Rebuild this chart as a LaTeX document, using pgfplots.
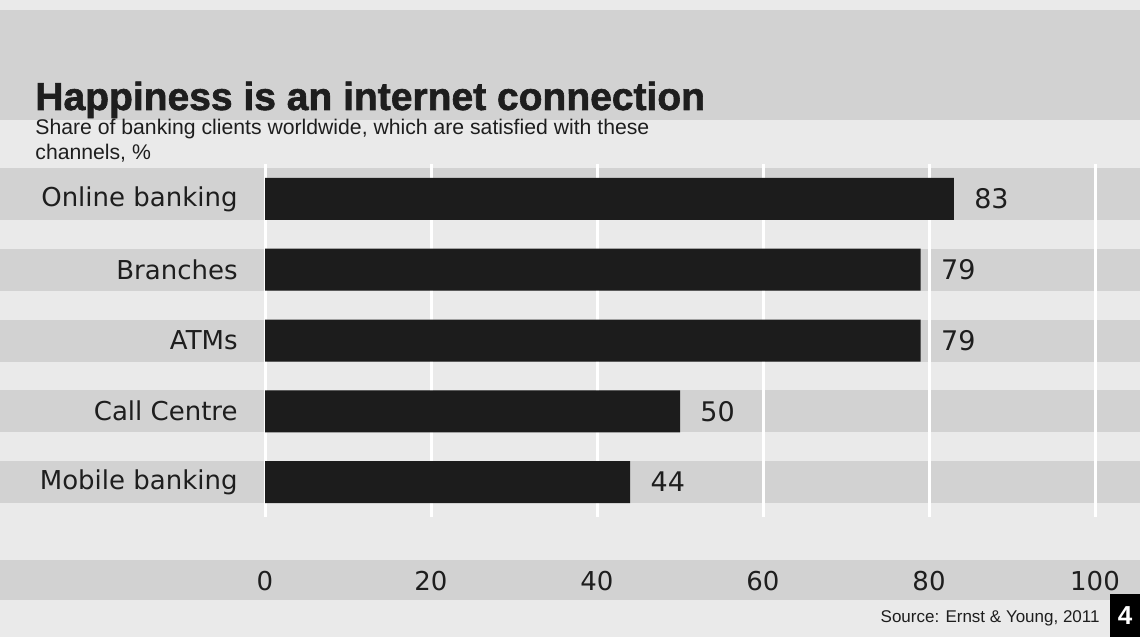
\documentclass[border=0pt]{standalone}
\usepackage{pgfplots}
\pgfplotsset{compat=1.18}
\usepackage{fontspec}
\setmainfont{DejaVu Sans}
\newfontfamily\lib{Liberation Sans}
\newfontfamily\libblack[BoldFeatures={FakeBold=1.6}]{Liberation Sans}
\definecolor{bg}{HTML}{D2D2D2}
\definecolor{band}{HTML}{EAEAEA}
\definecolor{bar}{HTML}{1C1C1C}
\definecolor{txt}{HTML}{1E1E1E}
\begin{document}
\begin{tikzpicture}
\begin{scope}[x=0.5pt,y=0.5pt]
\fill[bg] (0,0) rectangle (1140,637);
\fill[band] (0,637) rectangle (1140,627);
\fill[band] (0,637-120) rectangle (1140,637-168);
\foreach \a/\b in {220/249,291/320,362/390,432/461,503/560,600/637}{
  \fill[band] (0,637-\a) rectangle (1140,637-\b);
}
\end{scope}
\begin{axis}[
  at={(132.5pt,59.75pt)}, anchor=south west,
  scale only axis, width=415pt, height=177pt,
  xbar, bar width=21pt,
  xmin=0, xmax=100, ymin=-0.5, ymax=4.5,
  xtick={0,20,40,60,80,100},
  ytick={0,1,2,3,4},
  yticklabels={Mobile banking,Call Centre,ATMs,Branches,Online banking},
  axis line style={draw=none},
  major tick length=0pt,
  xmajorgrids, grid style={white, line width=1.5pt},
  tick label style={font=\fontsize{13}{15}\selectfont, text=txt},
  xticklabel style={anchor=center, yshift=-31.75pt},
  yticklabel style={anchor=east, inner sep=0pt, xshift=-13.5pt},
  /pgf/number format/assume math mode=true,
  nodes near coords,
  every node near coord/.append style={anchor=west, inner sep=0pt, xshift=10pt, font=\fontsize{13.5}{15}\selectfont, text=txt},
  clip=false,
]
\addplot[fill=bar, draw=none] coordinates {(44,0) (50,1) (79,2) (79,3) (83,4)};
\end{axis}
\begin{scope}[x=0.5pt,y=0.5pt]
\node[anchor=base west, inner sep=0pt, text=txt] at (35,637-110) {\libblack\fontsize{19.5}{22}\selectfont\bfseries Happiness is an internet connection};
\node[anchor=base west, inner sep=0pt, text=txt] at (35,637-135) {\lib\fontsize{10.6}{13}\selectfont Share of banking clients worldwide, which are satisfied with these};
\node[anchor=base west, inner sep=0pt, text=txt] at (35,637-160) {\lib\fontsize{10.6}{13}\selectfont channels, \%};
\node[anchor=base east, inner sep=0pt, text=txt] at (1100,637-622) {\lib\fontsize{8.5}{10}\selectfont Source: Ernst \& Young, 2011};
\fill[black] (1110,0) rectangle (1140,637-594);
\node[text=white, inner sep=0pt] at (1125,637-616) {\lib\fontsize{13}{15}\selectfont\bfseries 4};
\end{scope}
\pgfresetboundingbox
\path (0,0) rectangle (570pt,318.5pt);
\end{tikzpicture}
\end{document}
